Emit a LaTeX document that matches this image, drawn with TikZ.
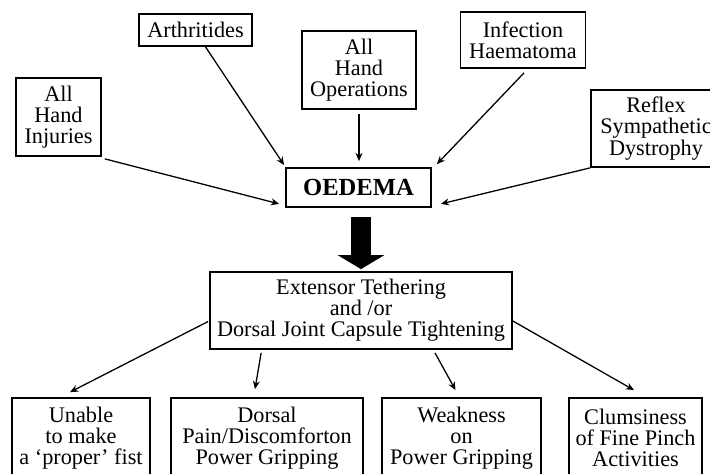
\documentclass[tikz,border=0pt]{standalone}
\usepackage{fontspec}
\setmainfont{Liberation Serif}
\usetikzlibrary{positioning,arrows.meta,calc}

\begin{document}
\begin{tikzpicture}[
  x=0.03cm, y=-0.03cm,
  cause/.style ={draw, line width=1.5pt, align=center, inner sep=1pt, font=\fontsize{19}{18}\selectfont},
  effect/.style={cause, minimum height=2.4cm},
  link/.style  ={-{Stealth[length=7pt,width=6pt]}, line width=1.1pt},
  bigarrow/.style={line width=0.6cm, -{Triangle[length=0.42cm,width=1.38cm]}},
]
\useasboundingbox (0,0) rectangle (710,473);
\node[cause, minimum width=2.55cm, minimum height=2.34cm] (inj)  at (58.5,117)  {All\\Hand\\Injuries};
\node[cause, minimum width=3.39cm, minimum height=0.96cm] (arth) at (195.5,30)  {Arthritides};
\node[cause, minimum width=3.42cm, minimum height=2.34cm] (oper) at (359,70)    {All\\Hand\\Operations};
\node[cause, minimum width=3.75cm, minimum height=1.68cm] (infe) at (523,40)    {Infection\\Haematoma};
\node[cause, minimum width=3.9cm, minimum height=2.31cm]  (refl) at (656,128.5) {Reflex\\Sympathetic\\Dystrophy};
\node[cause, minimum width=4.35cm, minimum height=1.17cm, font=\fontsize{21}{24}\selectfont\bfseries] (oed) at (358.5,187.5) {OEDEMA};
\node[cause, minimum width=9.06cm, minimum height=2.31cm] (ext)  at (361,310.5) {Extensor Tethering\\and /or\\Dorsal Joint Capsule Tightening};
\node[effect, minimum width=4.14cm] (fist)  at (81,438)    {Unable\\to make\\a `proper' fist};
\node[effect, minimum width=5.76cm] (pain)  at (267,438)   {Dorsal\\Pain/Discomforton\\Power Gripping};
\node[effect, minimum width=4.77cm] (weak)  at (461.5,438) {Weakness\\on\\Power Gripping};
\node[effect, minimum width=3.99cm] (pinch) at (635.5,438) {Clumsiness\\of Fine Pinch\\Activities};

\draw[link] ($(inj.south east)+(3,2)$) -- ($(oed.south west)+(-6,-4)$);
\draw[link] ($(arth.south)+(10,0)$) -- ($(oed.north west)+(-1,-2)$);
\draw[link] ($(oper.south)+(0,4)$) -- ($(oed.north)+(0.5,-6)$);
\draw[link] ($(infe.south)+(1,4)$) -- ($(oed.north east)+(5,-3)$);
\draw[link] (refl.south west) -- ($(oed.south east)+(9,-4)$);
\draw[bigarrow] ($(ext.north)+(0,-54)$) -- ($(ext.north)+(0,-2)$);
\draw[link] ($(ext.west)+(-1,11)$) -- ($(fist.north)+(-11,-5)$);
\draw[link] ($(ext.south west)+(52,3)$) -- ($(pain.north)+(-12,-8)$);
\draw[link] ($(ext.south)+(74,3)$) -- ($(weak.north)+(-6,-7)$);
\draw[link] ($(ext.east)+(0,10.5)$) -- ($(pinch.north)+(-1.5,-7)$);
\end{tikzpicture}
\end{document}
